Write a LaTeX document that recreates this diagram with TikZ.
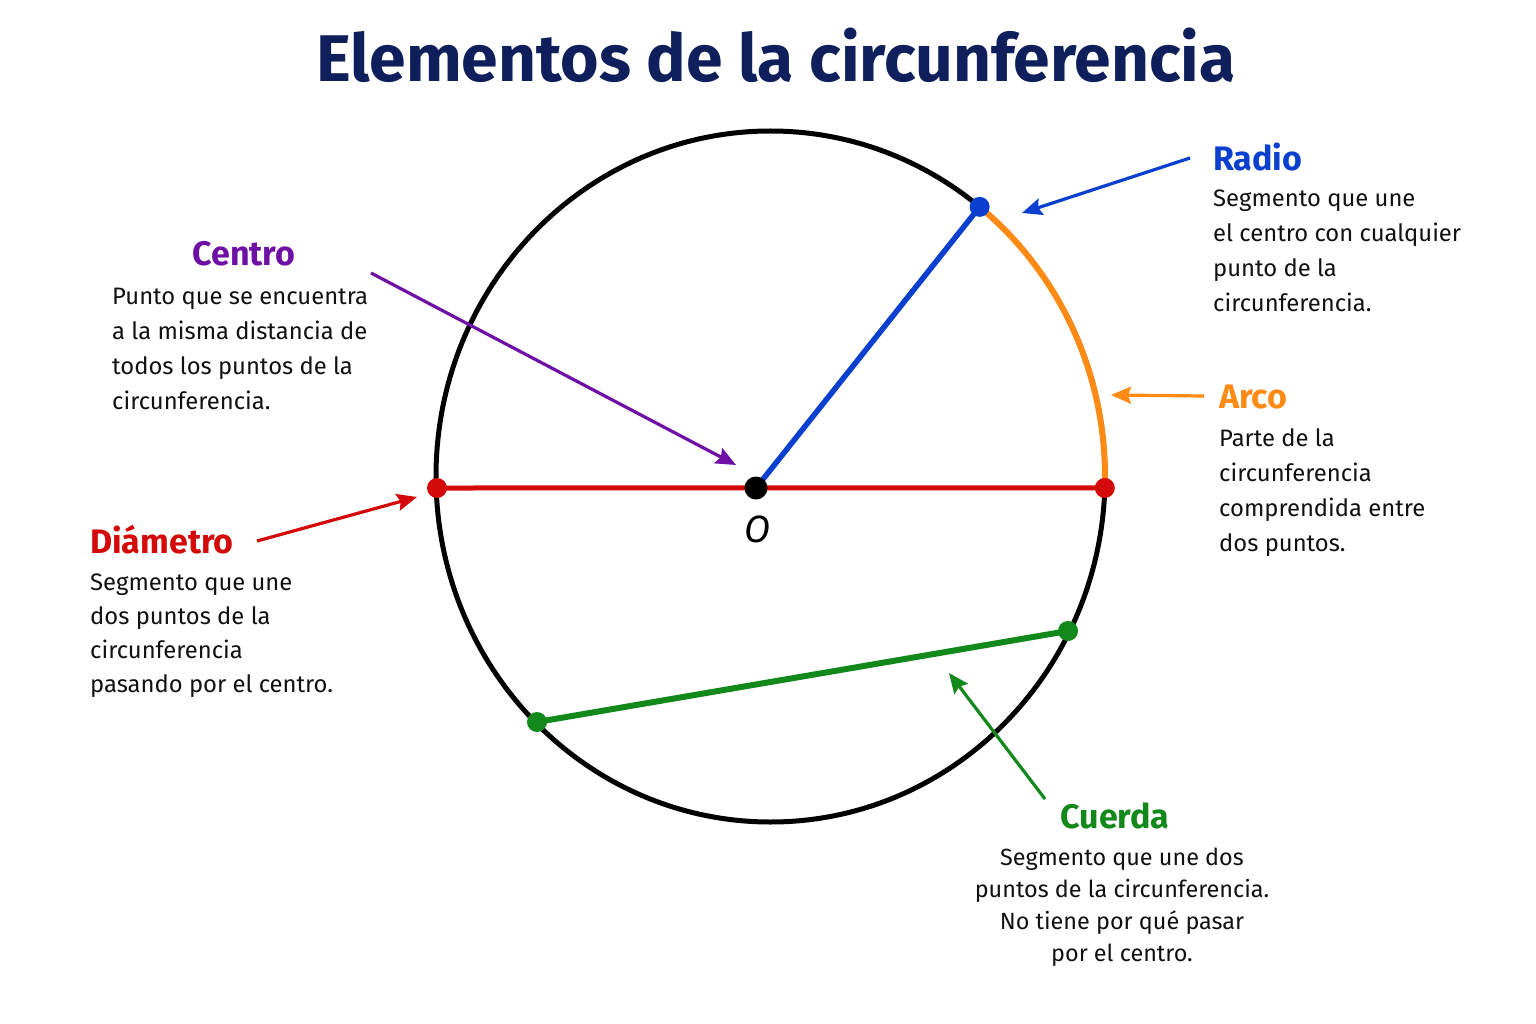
\documentclass[tikz,border=0pt]{standalone}
\usepackage{fontspec}
\setmainfont{Fira Sans}
\usetikzlibrary{arrows.meta}
\definecolor{titlecol}{HTML}{0F1F5C}
\definecolor{cpurple}{HTML}{6E0FA6}
\definecolor{cblue}{HTML}{0A3FD0}
\definecolor{corange}{HTML}{FF8A14}
\definecolor{cred}{HTML}{D40A0A}
\definecolor{cgreen}{HTML}{12891A}
\definecolor{bodytext}{HTML}{111111}
\tikzset{
  heading/.style={inner sep=0pt, font=\fontsize{34}{38}\selectfont\bfseries},
  bodytxt/.style={inner sep=0pt, text=bodytext, font=\fontsize{23.8}{35}\selectfont, align=left},
  pointer/.style={line width=3.2pt, -{Stealth[length=20pt,width=17pt,inset=3pt]}},
  dotnode/.style={circle, inner sep=0pt, minimum size=20pt},
}
\begin{document}
\begin{tikzpicture}[x=1pt,y=-1pt]
\useasboundingbox[fill=white] (0,0) rectangle (1536,1024);

% title
\node[inner sep=0pt, text=titlecol, font=\fontsize{66}{72}\selectfont\bfseries] (title) at (776,55) {Elementos de la circunferencia};

% circle
\coordinate (C) at (770.5,476.5);
\draw[line width=5pt, black] (C) ellipse [x radius=334.5, y radius=345.5];

% points
\coordinate (Opos) at (756,488);
\coordinate (Lpos) at (437,488);
\coordinate (Rpos) at ([shift={(C)}]1.9:334.5 and 345.5);
\coordinate (Bpos) at ([shift={(C)}]-51.3:334.5 and 345.5);
\coordinate (G1pos) at (537,722);
\coordinate (G2pos) at (1068,631);

% orange arc
\draw[line width=6pt, corange] (Bpos) arc[start angle=-51.3, end angle=1.9, x radius=334.5, y radius=345.5];

% diameter
\draw[line width=5pt, cred] (Lpos) -- (Rpos);
% radius
\draw[line width=5.5pt, cblue] (Opos) -- (Bpos);
% chord
\draw[line width=6pt, cgreen] (G1pos) -- (G2pos);

% dots
\node[dotnode, fill=cred] (L) at (Lpos) {};
\node[dotnode, fill=cred] (R) at (Rpos) {};
\node[dotnode, fill=cblue] (B) at (Bpos) {};
\node[dotnode, fill=cgreen] (G1) at (G1pos) {};
\node[dotnode, fill=cgreen] (G2) at (G2pos) {};
\node[dotnode, fill=black, minimum size=23pt] (O) at (Opos) {};
\node[inner sep=0pt, font=\fontsize{38}{40}\selectfont\itshape] (Olab) at (758,529) {O};

% Centro
\node[heading, text=cpurple] (hcentro) at (244,254) {Centro};
\node[bodytxt, anchor=north west] (tcentro) at (112,288) {Punto que se encuentra\\a la misma distancia de\\todos los puntos de la\\circunferencia.};
\coordinate (ca1) at (371,273);
\coordinate (ca2) at (736,465);
\draw[pointer, cpurple] (ca1) -- (ca2);

% Radio
\node[heading, text=cblue, anchor=west] (hradio) at (1213,157) {Radio};
\node[bodytxt, anchor=north west] (tradio) at (1213,190) {Segmento que une\\el centro con cualquier\\punto de la\\circunferencia.};
\coordinate (ra1) at (1190,158);
\coordinate (ra2) at (1022,213);
\draw[pointer, cblue] (ra1) -- (ra2);

% Arco
\node[heading, text=corange, anchor=west] (harco) at (1219,397) {Arco};
\node[bodytxt, anchor=north west] (tarco) at (1219,428) {Parte de la\\circunferencia\\comprendida entre\\dos puntos.};
\coordinate (aa1) at (1204,396);
\coordinate (aa2) at (1111,395);
\draw[pointer, corange] (aa1) -- (aa2);

% Diametro
\node[heading, text=cred, anchor=west] (hdiam) at (90,540) {Diámetro};
\node[bodytxt, anchor=north west, font=\fontsize{23.8}{34}\selectfont] (tdiam) at (90,574) {Segmento que une\\dos puntos de la\\circunferencia\\pasando por el centro.};
\coordinate (da1) at (257,541);
\coordinate (da2) at (417,497);
\draw[pointer, cred] (da1) -- (da2);

% Cuerda
\node[heading, text=cgreen] (hcuerda) at (1115,816) {Cuerda};
\node[bodytxt, anchor=north, align=center, font=\fontsize{23.4}{32}\selectfont] (tcuerda) at (1122,848) {Segmento que une dos\\puntos de la circunferencia.\\No tiene por qué pasar\\por el centro.};
\coordinate (ga1) at (1045,799);
\coordinate (ga2) at (949,673);
\draw[pointer, cgreen] (ga1) -- (ga2);
\end{tikzpicture}
\end{document}
